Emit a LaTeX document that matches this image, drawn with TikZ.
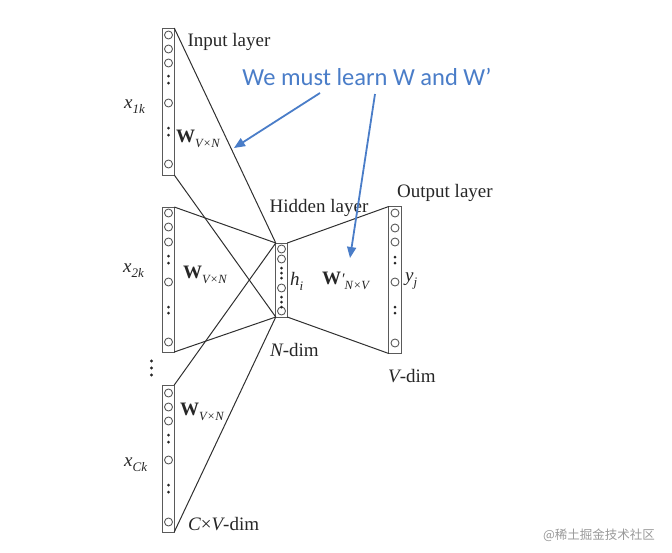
\documentclass[tikz,border=0pt]{standalone}
\usepackage{fontspec}
\setmainfont{Liberation Serif}
\newfontfamily\calibrifont{Carlito}
\newfontfamily\cjkfont{Noto Sans CJK SC}
\usetikzlibrary{arrows.meta}
\definecolor{annblue}{HTML}{4A7DC8}
\definecolor{boxgray}{HTML}{5A5A5A}
\definecolor{linegray}{HTML}{303030}
\newcommand\Wlab[1]{{\fontsize{19}{21}\selectfont\bfseries W}\raisebox{-5pt}{\fontsize{12.5}{13}\selectfont\itshape #1}}
\newcommand\Xlab[1]{{\itshape x}\raisebox{-5pt}{\fontsize{13}{13}\selectfont\itshape #1}}
\tikzset{
 layerbox/.style={draw=boxgray, line width=1pt, minimum width=11.5pt, inner sep=0pt, outer sep=0pt},
 unit/.style={circle, draw=boxgray, line width=0.9pt, minimum size=8pt, inner sep=0pt},
 dotmark/.style={circle, fill=black!85, minimum size=3pt, inner sep=0pt},
 wire/.style={draw=linegray, line width=1pt},
 lbl/.style={font=\fontsize{19}{21}\selectfont, inner sep=0pt, text=black!85},
 ann/.style={draw=annblue, line width=1.8pt, -{Triangle[length=11pt,width=9pt]}},
}
\begin{document}
\begin{tikzpicture}[x=1pt,y=-1pt]
\useasboundingbox (0,0) rectangle (672,552);
% layer boxes
\node[layerbox, minimum height=147pt] (in1) at (168.5,101.5) {};
\node[layerbox, minimum height=145pt] (in2) at (168.5,279.5) {};
\node[layerbox, minimum height=147pt] (in3) at (168.5,458.5) {};
\node[layerbox, minimum height=74pt] (hid) at (281.5,280) {};
\node[layerbox, minimum height=147pt, minimum width=12.5pt] (out) at (395,280) {};
% units
\foreach \y [count=\i] in {35,49,63,103,164} \node[unit] (in1u\i) at (168.5,\y) {};
\foreach \y [count=\i] in {76,83,128,135} \node[dotmark] (in1d\i) at (168.5,\y) {};
\foreach \y [count=\i] in {213,227,242,282,342} \node[unit] (in2u\i) at (168.5,\y) {};
\foreach \y [count=\i] in {256,263,307,313} \node[dotmark] (in2d\i) at (168.5,\y) {};
\foreach \y [count=\i] in {393,407,421,460,522} \node[unit] (in3u\i) at (168.5,\y) {};
\foreach \y [count=\i] in {435,442,485,492} \node[dotmark] (in3d\i) at (168.5,\y) {};
\foreach \y [count=\i] in {249,259,288,311} \node[unit] (hidu\i) at (281.5,\y) {};
\foreach \y [count=\i] in {268,273,278,297,302,307} \node[dotmark] (hidd\i) at (281.5,\y) {};
\foreach \y [count=\i] in {213,228,242,282,343} \node[unit] (outu\i) at (395,\y) {};
\foreach \y [count=\i] in {257,263,307,313} \node[dotmark] (outd\i) at (395,\y) {};
% vertical ellipsis between input groups
\foreach \y [count=\i] in {361,368,375} \node[dotmark, minimum size=3.4pt] (vd\i) at (151.5,\y) {};
% wires
\draw[wire] (in1.north east) -- (hid.north west);
\draw[wire] (in1.south east) -- (hid.south west);
\draw[wire] (in2.north east) -- (hid.north west);
\draw[wire] (in2.south east) -- (hid.south west);
\draw[wire] (in3.north east) -- (hid.north west);
\draw[wire] (in3.south east) -- (hid.south west);
\draw[wire] (hid.north east) -- (out.north west);
\draw[wire] (hid.south east) -- (out.south west);
% labels
\node[lbl] (tin) at (229,42) {Input layer};
\node[lbl, anchor=west] (x1) at (124,107) {\Xlab{1k}};
\node[lbl, anchor=west] (x2) at (123,271) {\Xlab{2k}};
\node[lbl, anchor=west] (x3) at (124,465) {\Xlab{Ck}};
\node[lbl, anchor=west] (w1) at (176,139) {\Wlab{V×N}};
\node[lbl, anchor=west] (w2) at (183,275) {\Wlab{V×N}};
\node[lbl, anchor=west] (w3) at (180,412) {\Wlab{V×N}};
\node[lbl, anchor=west] (cv) at (188,524) {{\itshape C}×{\itshape V}-dim};
\node[lbl] (thid) at (319,208) {Hidden layer};
\node[lbl, anchor=west] (tout) at (397,193) {Output layer};
\node[lbl, anchor=west] (hi) at (290,281) {{\itshape h}\raisebox{-5pt}{\fontsize{13}{13}\selectfont\itshape i}};
\node[lbl, anchor=west] (wp) at (322,281) {{\fontsize{19}{21}\selectfont\bfseries W}{\fontsize{16}{16}\selectfont\itshape ′}\raisebox{-5pt}{\fontsize{12.5}{13}\selectfont\itshape N×V}};
\node[lbl, anchor=west] (yj) at (405,281) {{\itshape y}\raisebox{-5pt}{\fontsize{13}{13}\selectfont\itshape j}};
\node[lbl, anchor=west] (nd) at (270,350) {{\itshape N}-dim};
\node[lbl, anchor=west] (vdim) at (388,376) {{\itshape V}-dim};
% annotation
\node[font=\calibrifont\fontsize{24.5}{26}\selectfont, text=annblue, inner sep=0pt] (note) at (367,77) {We must learn W and W’};
\coordinate (a1s) at (320,93);
\coordinate (a1e) at (234,148);
\coordinate (a2s) at (375,94);
\coordinate (a2e) at (350,258);
\draw[ann] (a1s) -- (a1e);
\draw[ann] (a2s) -- (a2e);
% watermark
\node[font=\cjkfont\fontsize{12.5}{13}\selectfont, text=black!40, inner sep=0pt] (wm) at (599,535) {@稀土掘金技术社区};
\end{tikzpicture}
\end{document}
